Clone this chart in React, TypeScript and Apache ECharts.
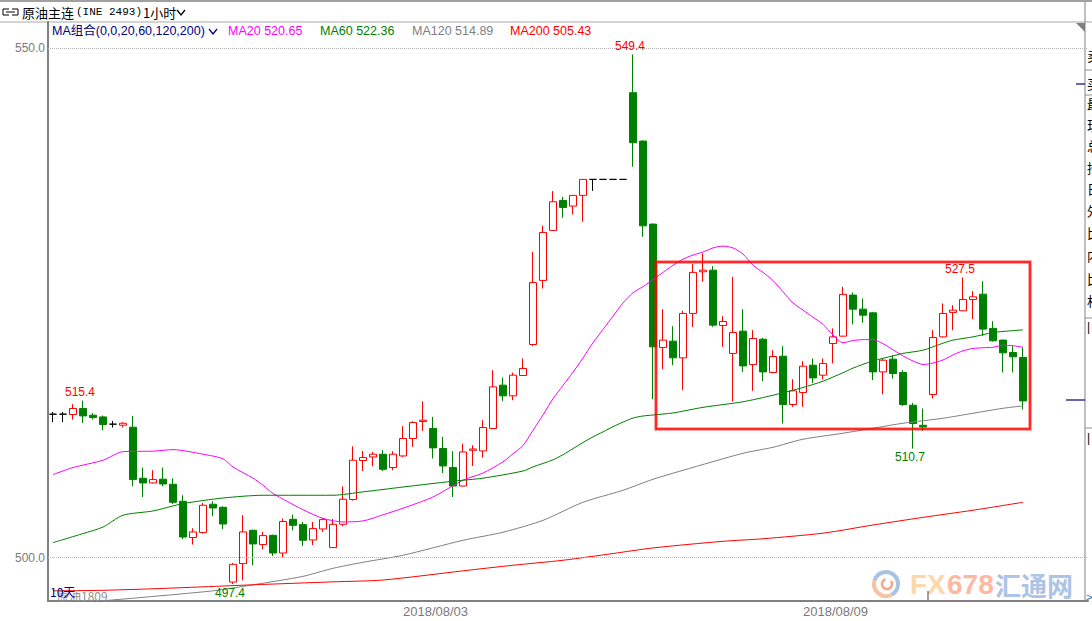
import { useEffect, useRef } from 'react';
import * as echarts from 'echarts';

// ---- candle data (1-hour bars) ----
const openP = [514.08,514.08,514.05,514.64,513.98,513.81,513.10,513.00,512.80,507.79,
507.33,507.70,507.20,505.53,501.97,502.46,505.24,504.94,497.60,499.41,
502.68,501.28,502.19,500.45,503.76,503.24,501.73,502.81,500.98,503.27,
505.70,509.53,509.88,510.15,508.84,509.98,511.69,513.36,512.67,510.71,
508.84,507.03,510.54,510.47,512.67,516.93,515.88,517.88,520.92,527.21,
532.12,535.07,534.51,535.56,537.13,537.13,537.13,537.13,545.64,540.89,
532.74,520.63,521.25,519.61,523.97,528.06,528.22,522.79,520.04,522.23,
518.95,521.44,518.17,519.77,515.03,516.21,518.89,517.91,521.02,521.74,
525.77,524.39,524.03,518.23,519.48,518.17,514.96,512.99,516.01,521.67,
524.07,524.23,525.34,525.86,522.50,521.35,520.14,519.65];
const closeP = [514.08,514.08,514.64,513.91,513.75,513.07,513.10,513.19,507.66,507.33,
507.66,507.23,505.43,502.02,502.52,505.14,504.87,503.30,499.34,502.52,
501.34,502.16,500.45,503.54,503.17,501.70,502.85,503.73,503.27,505.73,
509.56,509.82,510.15,508.67,510.15,511.69,513.26,513.49,510.77,509.00,
507.03,510.37,510.66,512.77,516.76,515.88,517.91,518.57,527.00,531.92,
534.93,534.38,535.56,537.13,537.13,537.13,537.13,537.13,540.73,532.57,
520.69,521.35,519.61,523.97,528.00,528.22,522.82,523.18,522.10,518.82,
521.51,518.23,519.74,515.03,516.37,518.79,517.64,519.06,521.67,525.84,
524.39,523.80,518.23,519.38,518.07,515.03,513.16,512.83,521.61,523.97,
524.29,525.34,525.60,522.43,521.28,520.10,519.71,515.38];
const lowP = [513.30,513.30,513.55,513.22,513.55,512.50,512.77,512.77,507.00,505.95,
507.27,507.00,505.24,501.80,501.28,502.36,504.06,502.80,497.40,497.77,
499.24,500.84,500.16,500.00,502.68,501.14,501.24,502.52,500.98,503.07,
505.60,508.50,508.97,508.50,508.58,509.88,510.87,512.44,509.73,508.31,
505.95,507.00,509.00,509.82,512.60,515.35,515.45,517.85,520.76,526.42,
532.10,533.36,533.69,532.97,536.00,537.13,537.13,537.13,538.37,531.50,
515.55,518.50,518.89,516.43,522.65,527.08,522.65,520.69,515.35,518.23,
516.37,517.32,518.10,513.16,514.80,514.80,517.15,517.48,519.06,521.70,
522.89,523.05,517.42,516.04,517.58,514.89,510.70,512.44,515.62,521.60,
522.33,524.20,523.41,521.77,521.20,518.17,518.17,514.54];
const highP = [514.30,514.30,515.06,515.40,514.20,513.95,513.42,513.29,513.91,508.84,
508.58,508.84,507.79,506.12,502.88,505.36,505.53,505.04,499.47,504.16,
502.75,502.52,502.25,503.83,504.22,503.50,503.50,503.89,503.79,507.00,
510.93,510.47,510.37,510.54,510.44,512.90,513.39,515.35,513.81,511.85,
510.44,511.20,511.03,513.49,518.40,517.68,518.17,519.55,530.02,532.58,
535.98,535.42,535.60,537.13,537.13,537.13,537.13,537.13,549.40,540.95,
532.80,524.39,522.72,524.22,528.81,529.86,528.61,523.70,527.56,524.39,
522.33,521.57,520.36,520.76,517.51,519.28,519.55,519.55,522.50,526.58,
526.03,525.44,524.13,519.55,519.87,518.40,515.19,514.64,522.33,524.95,
524.78,527.50,526.16,527.14,523.21,521.40,520.76,520.63];

const slotCount = 104;
const dateLabelIdx = [35, 75];
const dateLabels = ['2018/08/03', '2018/08/09'];
const yTickValues = [500, 550];

// ---- moving averages: [candle index, value] ----
const ma20Idx = [0,2,5,7,10,12,15,17,18,20,21,22,25,27,29,31,33,35,38,41,43,45,46,47,48,49,50,51,52,53,54,55,56,57,58,59,60,61,62,63,64,65,66,67,68,69,70,71,72,73,74,75,76,77,78,79,80,81,82,83,84,85,86,87,88,89,90,91,92,93,94,95,96,97];
const ma20Val = [508.15,508.84,509.56,510.40,510.45,510.60,510.15,509.70,508.90,507.80,507.10,506.30,504.70,503.85,503.50,503.60,504.20,504.85,505.95,507.60,508.30,509.40,510.20,511.00,512.50,514.00,515.60,516.90,518.20,519.60,521.10,522.40,523.70,525.00,526.00,526.60,527.30,528.00,528.70,529.30,529.70,530.00,530.40,530.58,530.40,529.80,528.70,528.00,527.20,526.10,525.00,524.30,523.60,522.90,521.85,521.10,521.30,521.40,521.40,521.00,520.40,519.80,519.30,518.96,519.10,519.40,519.90,520.30,520.53,520.60,520.65,520.85,520.80,520.65];
const ma60Idx = [0,3,5,7,10,13,17,21,28,31,35,40,43,47,48,50,51,52,53,54,55,56,57,58,59,60,62,65,69,72,75,77,79,80,82,84,85,87,89,90,92,94,95,97];
const ma60Val = [501.47,502.36,503.00,504.16,504.58,505.30,505.85,506.12,506.12,506.45,506.93,507.50,507.80,508.50,508.90,509.60,510.10,510.70,511.30,511.85,512.34,512.85,513.30,513.70,513.90,514.00,514.20,514.75,515.30,515.94,516.70,517.32,518.15,518.60,519.31,519.80,520.05,520.36,521.05,521.35,521.67,522.10,522.20,522.36];
const ma120Idx = [5,9,16,20,25,28,31,35,41,45,49,53,57,60,63,69,72,75,79,82,85,89,92,95,97];
const ma120Val = [495.76,496.10,496.74,497.33,498.16,498.95,499.54,500.23,501.70,502.49,503.66,505.43,506.61,507.69,508.57,510.24,510.83,511.62,512.21,512.70,513.19,513.68,514.17,514.66,514.89];
const ma200Idx = [0,5,10,15,20,28,33,41,46,51,56,60,67,71,77,82,87,92,97];
const ma200Val = [496.74,496.79,496.94,497.13,497.33,497.62,497.80,498.70,499.25,499.74,500.40,500.95,501.60,501.85,502.40,503.20,503.95,504.65,505.43];

const maNames = ['MA20', 'MA60', 'MA120', 'MA200'];
const maLast = [520.65, 522.36, 514.89, 505.43];
const maColors = ['#ff00ff', '#008000', '#808080', '#ff0000'];

const highMarkIdx = [58, 3, 91];
const lowMarkIdx = [18, 86];

const panelChars = ['卖', '买', '最', '现', '总', '持', '日', '外', '比', '内', '比', '相'];

const FONT = '"Liberation Sans", "Noto Sans CJK SC", sans-serif';
const CJK = '"Noto Sans CJK SC", "Liberation Sans", sans-serif';

export default function App() {
  const ref = useRef<HTMLDivElement>(null);

  useEffect(() => {
    document.body.style.margin = '0';
    const chart = echarts.init(ref.current!, null, { renderer: 'svg' });

    const categories = Array.from({ length: slotCount }, (_, i) => 'K' + i);
    const candles = openP.map((o, i) => [o, closeP[i], lowP[i], highP[i]]);
    const pairs = (idx: number[], val: number[]) => idx.map((x, k) => [x, val[k]]);
    const maData = [pairs(ma20Idx, ma20Val), pairs(ma60Idx, ma60Val), pairs(ma120Idx, ma120Val), pairs(ma200Idx, ma200Val)];

    const markData: any[] = [];
    highMarkIdx.forEach((i) => markData.push({
      coord: [i, highP[i]], value: highP[i],
      label: { position: 'top', color: '#ff0000' },
    }));
    lowMarkIdx.forEach((i) => markData.push({
      coord: [i, lowP[i]], value: lowP[i],
      label: { position: 'bottom', color: '#008000' },
    }));

    // legend row
    const legendTexts: any[] = [];
    legendTexts.push({ type: 'text', x: 52, y: 31, style: { text: 'MA组合(0,0,20,60,120,200)', fill: '#000080', font: '12.5px ' + FONT, verticalAlign: 'middle' } });
    legendTexts.push({ type: 'polyline', shape: { points: [[209, 29], [213, 34], [217, 29]] }, style: { stroke: '#000080', lineWidth: 1.3, fill: 'none' } });
    const legendX = [228, 320, 412, 510];
    maNames.forEach((n, k) => legendTexts.push({
      type: 'text', x: legendX[k], y: 31,
      style: { text: n + ' ' + maLast[k].toFixed(2), fill: maColors[k], font: '12.5px ' + FONT, verticalAlign: 'middle' },
    }));

    const panel: any[] = [];
    const charY = [55, 83, 103, 124, 145, 167, 188, 210, 232, 255, 278, 300];
    panelChars.forEach((c, k) => panel.push({
      type: 'text', x: 1087, y: charY[k], style: { text: c, fill: '#000', font: '13px ' + CJK, verticalAlign: 'middle' },
    }));
    [70, 95, 318, 428].forEach((yy) => panel.push({
      type: 'line', shape: { x1: 1085, y1: yy, x2: 1092, y2: yy }, style: { stroke: '#909090', lineWidth: 1 },
    }));
    panel.push({ type: 'text', x: 1087, y: 327, style: { text: '|', fill: '#000', font: '12px ' + FONT, verticalAlign: 'middle' } });
    panel.push({ type: 'text', x: 1087, y: 438, style: { text: '|', fill: '#000', font: '12px ' + FONT, verticalAlign: 'middle' } });
    panel.push({ type: 'text', x: 1086, y: 597, style: { text: '>', fill: '#2a6fa0', font: '11px ' + FONT, verticalAlign: 'middle' } });
    panel.push({ type: 'line', shape: { x1: 1076, y1: 84, x2: 1085, y2: 84 }, style: { stroke: '#000080', lineWidth: 1.2 } });
    panel.push({ type: 'line', shape: { x1: 1066, y1: 400, x2: 1085, y2: 400 }, style: { stroke: '#000080', lineWidth: 1.2 } });

    const option: any = {
      animation: false,
      backgroundColor: '#ffffff',
      grid: { left: 48, top: 22, width: 1040, height: 579, containLabel: false },
      xAxis: {
        type: 'category',
        data: categories,
        boundaryGap: true,
        axisLine: { show: true, lineStyle: { color: '#808080', width: 2 } },
        axisTick: { show: false },
        splitLine: { show: false },
        axisLabel: {
          interval: (idx: number) => dateLabelIdx.indexOf(idx) >= 0,
          formatter: (_v: string, idx: number) => {
            const k = dateLabelIdx.indexOf(idx);
            return k >= 0 ? dateLabels[k] : '';
          },
          align: 'left',
          color: '#7a7a7a',
          fontSize: 13,
          fontFamily: FONT,
          margin: 4,
        },
      },
      yAxis: {
        type: 'value',
        min: 495.74,
        max: 552.58,
        scale: true,
        axisLine: { show: true, lineStyle: { color: '#808080', width: 2 } },
        axisTick: { show: false },
        splitLine: { show: false },
        axisLabel: {
          customValues: yTickValues,
          formatter: (v: number) => v.toFixed(1),
          color: '#7a7a7a',
          fontSize: 12,
          fontFamily: FONT,
          margin: 3,
        },
      },
      series: [
        {
          type: 'candlestick',
          data: candles,
          barWidth: 8,
          itemStyle: {
            color: '#ffffff',
            color0: '#008000',
            borderColor: '#ff0000',
            borderColor0: '#008000',
            borderColorDoji: '#000000',
            borderWidth: 1,
          },
          markLine: {
            silent: true,
            symbol: ['none', 'none'],
            label: { show: false },
            lineStyle: { type: 'dotted', color: '#b4b4b4', width: 1 },
            data: yTickValues.map((v) => ({ yAxis: v })),
          },
          markPoint: {
            silent: true,
            symbol: 'rect',
            symbolSize: 1,
            itemStyle: { color: 'rgba(0,0,0,0)' },
            label: {
              show: true,
              fontSize: 12,
              fontFamily: FONT,
              distance: 2,
              offset: [-3, 0],
              formatter: (p: any) => Number(p.value).toFixed(1),
            },
            data: markData,
          },
          z: 2,
        },
        ...maData.map((d, k) => ({
          type: 'line',
          name: maNames[k],
          data: d,
          showSymbol: false,
          symbol: 'none',
          smooth: 0.25,
          lineStyle: { color: maColors[k], width: 1 },
          silent: true,
          z: 3,
        })),
      ],
      graphic: [
        // top chrome
        { type: 'rect', shape: { x: 0, y: 0, width: 1092, height: 2 }, style: { fill: '#a0a0a0' } },
        { type: 'line', shape: { x1: 0, y1: 22, x2: 1092, y2: 22 }, style: { stroke: '#a8a8a8', lineWidth: 1 } },
        { type: 'polyline', shape: { points: [[9, 9], [3, 9], [3, 15], [9, 15]] }, style: { stroke: '#000', lineWidth: 1, fill: 'none' } },
        { type: 'polyline', shape: { points: [[12, 9], [18, 9], [18, 15], [12, 15]] }, style: { stroke: '#000', lineWidth: 1, fill: 'none' } },
        { type: 'line', shape: { x1: 6, y1: 12, x2: 15, y2: 12 }, style: { stroke: '#000', lineWidth: 1 } },
        { type: 'text', x: 22, y: 12, style: { text: '原油主连', fill: '#000', font: '13px ' + CJK, verticalAlign: 'middle' } },
        { type: 'text', x: 76, y: 12, style: { text: '(INE 2493)', fill: '#000', font: '11px "Liberation Mono", monospace', verticalAlign: 'middle' } },
        { type: 'text', x: 143, y: 12, style: { text: '1小时', fill: '#000', font: '13px ' + CJK, verticalAlign: 'middle' } },
        { type: 'polyline', shape: { points: [[177, 10], [181, 15], [185, 10]] }, style: { stroke: '#000', lineWidth: 1.3, fill: 'none' } },
        ...legendTexts,
        // right side panel
        { type: 'line', shape: { x1: 1085, y1: 2, x2: 1085, y2: 601 }, style: { stroke: '#808080', lineWidth: 1 } },
        { type: 'polygon', shape: { points: [[1076, 23], [1085, 23], [1085, 32]] }, style: { fill: '#808080' } },
        ...panel,
        // annotation box
        { type: 'rect', shape: { x: 656, y: 262, width: 374, height: 167 }, style: { fill: 'none', stroke: 'rgba(255,0,0,0.35)', lineWidth: 4 }, z: 10 },
        { type: 'rect', shape: { x: 656, y: 262, width: 374, height: 167 }, style: { fill: 'none', stroke: '#ff0000', lineWidth: 1.5 }, z: 11 },
        // bottom-left texts
        { type: 'text', x: 57, y: 595, style: { text: '原油1809', fill: '#909090', font: '12px ' + CJK, verticalAlign: 'middle' }, z: 10 },
        { type: 'text', x: 50, y: 591, style: { text: '10天', fill: '#000090', font: '12px ' + CJK, verticalAlign: 'middle' }, z: 11 },
        // small tick
        { type: 'line', shape: { x1: 928, y1: 591, x2: 928, y2: 600 }, style: { stroke: '#404040', lineWidth: 1 }, z: 10 },
        // watermark
        { type: 'arc', shape: { cx: 886, cy: 584, r: 12, startAngle: -Math.PI * 0.9, endAngle: Math.PI * 0.35 }, style: { stroke: '#a9c2e4', lineWidth: 4, fill: 'none' }, z: 9 },
        { type: 'arc', shape: { cx: 886, cy: 584, r: 12, startAngle: Math.PI * 0.35, endAngle: Math.PI * 1.1 }, style: { stroke: '#f7c3a0', lineWidth: 4, fill: 'none' }, z: 9 },
        { type: 'arc', shape: { cx: 887, cy: 584, r: 5, startAngle: -Math.PI * 0.2, endAngle: Math.PI * 1.4 }, style: { stroke: '#f2a985', lineWidth: 2.5, fill: 'none' }, z: 9 },
        { type: 'text', x: 910, y: 584, z: 9, style: { text: 'FX', font: 'bold 28px "Liberation Sans", sans-serif', verticalAlign: 'middle', fill: '#ffd8a8' } },
        { type: 'text', x: 947, y: 584, z: 9, style: { text: '678', font: 'bold 28px "Liberation Sans", sans-serif', verticalAlign: 'middle', fill: '#ffb8a0' } },
        { type: 'text', x: 995, y: 584, z: 9, style: { text: '汇通网', font: 'bold 26px ' + CJK, verticalAlign: 'middle', fill: '#adc4e6' } },
      ],
    };

    chart.setOption(option);
    return () => chart.dispose();
  }, []);

  return <div ref={ref} style={{ position: 'absolute', left: 0, top: 0, width: 1092, height: 621, background: '#fff' }} />;
}
